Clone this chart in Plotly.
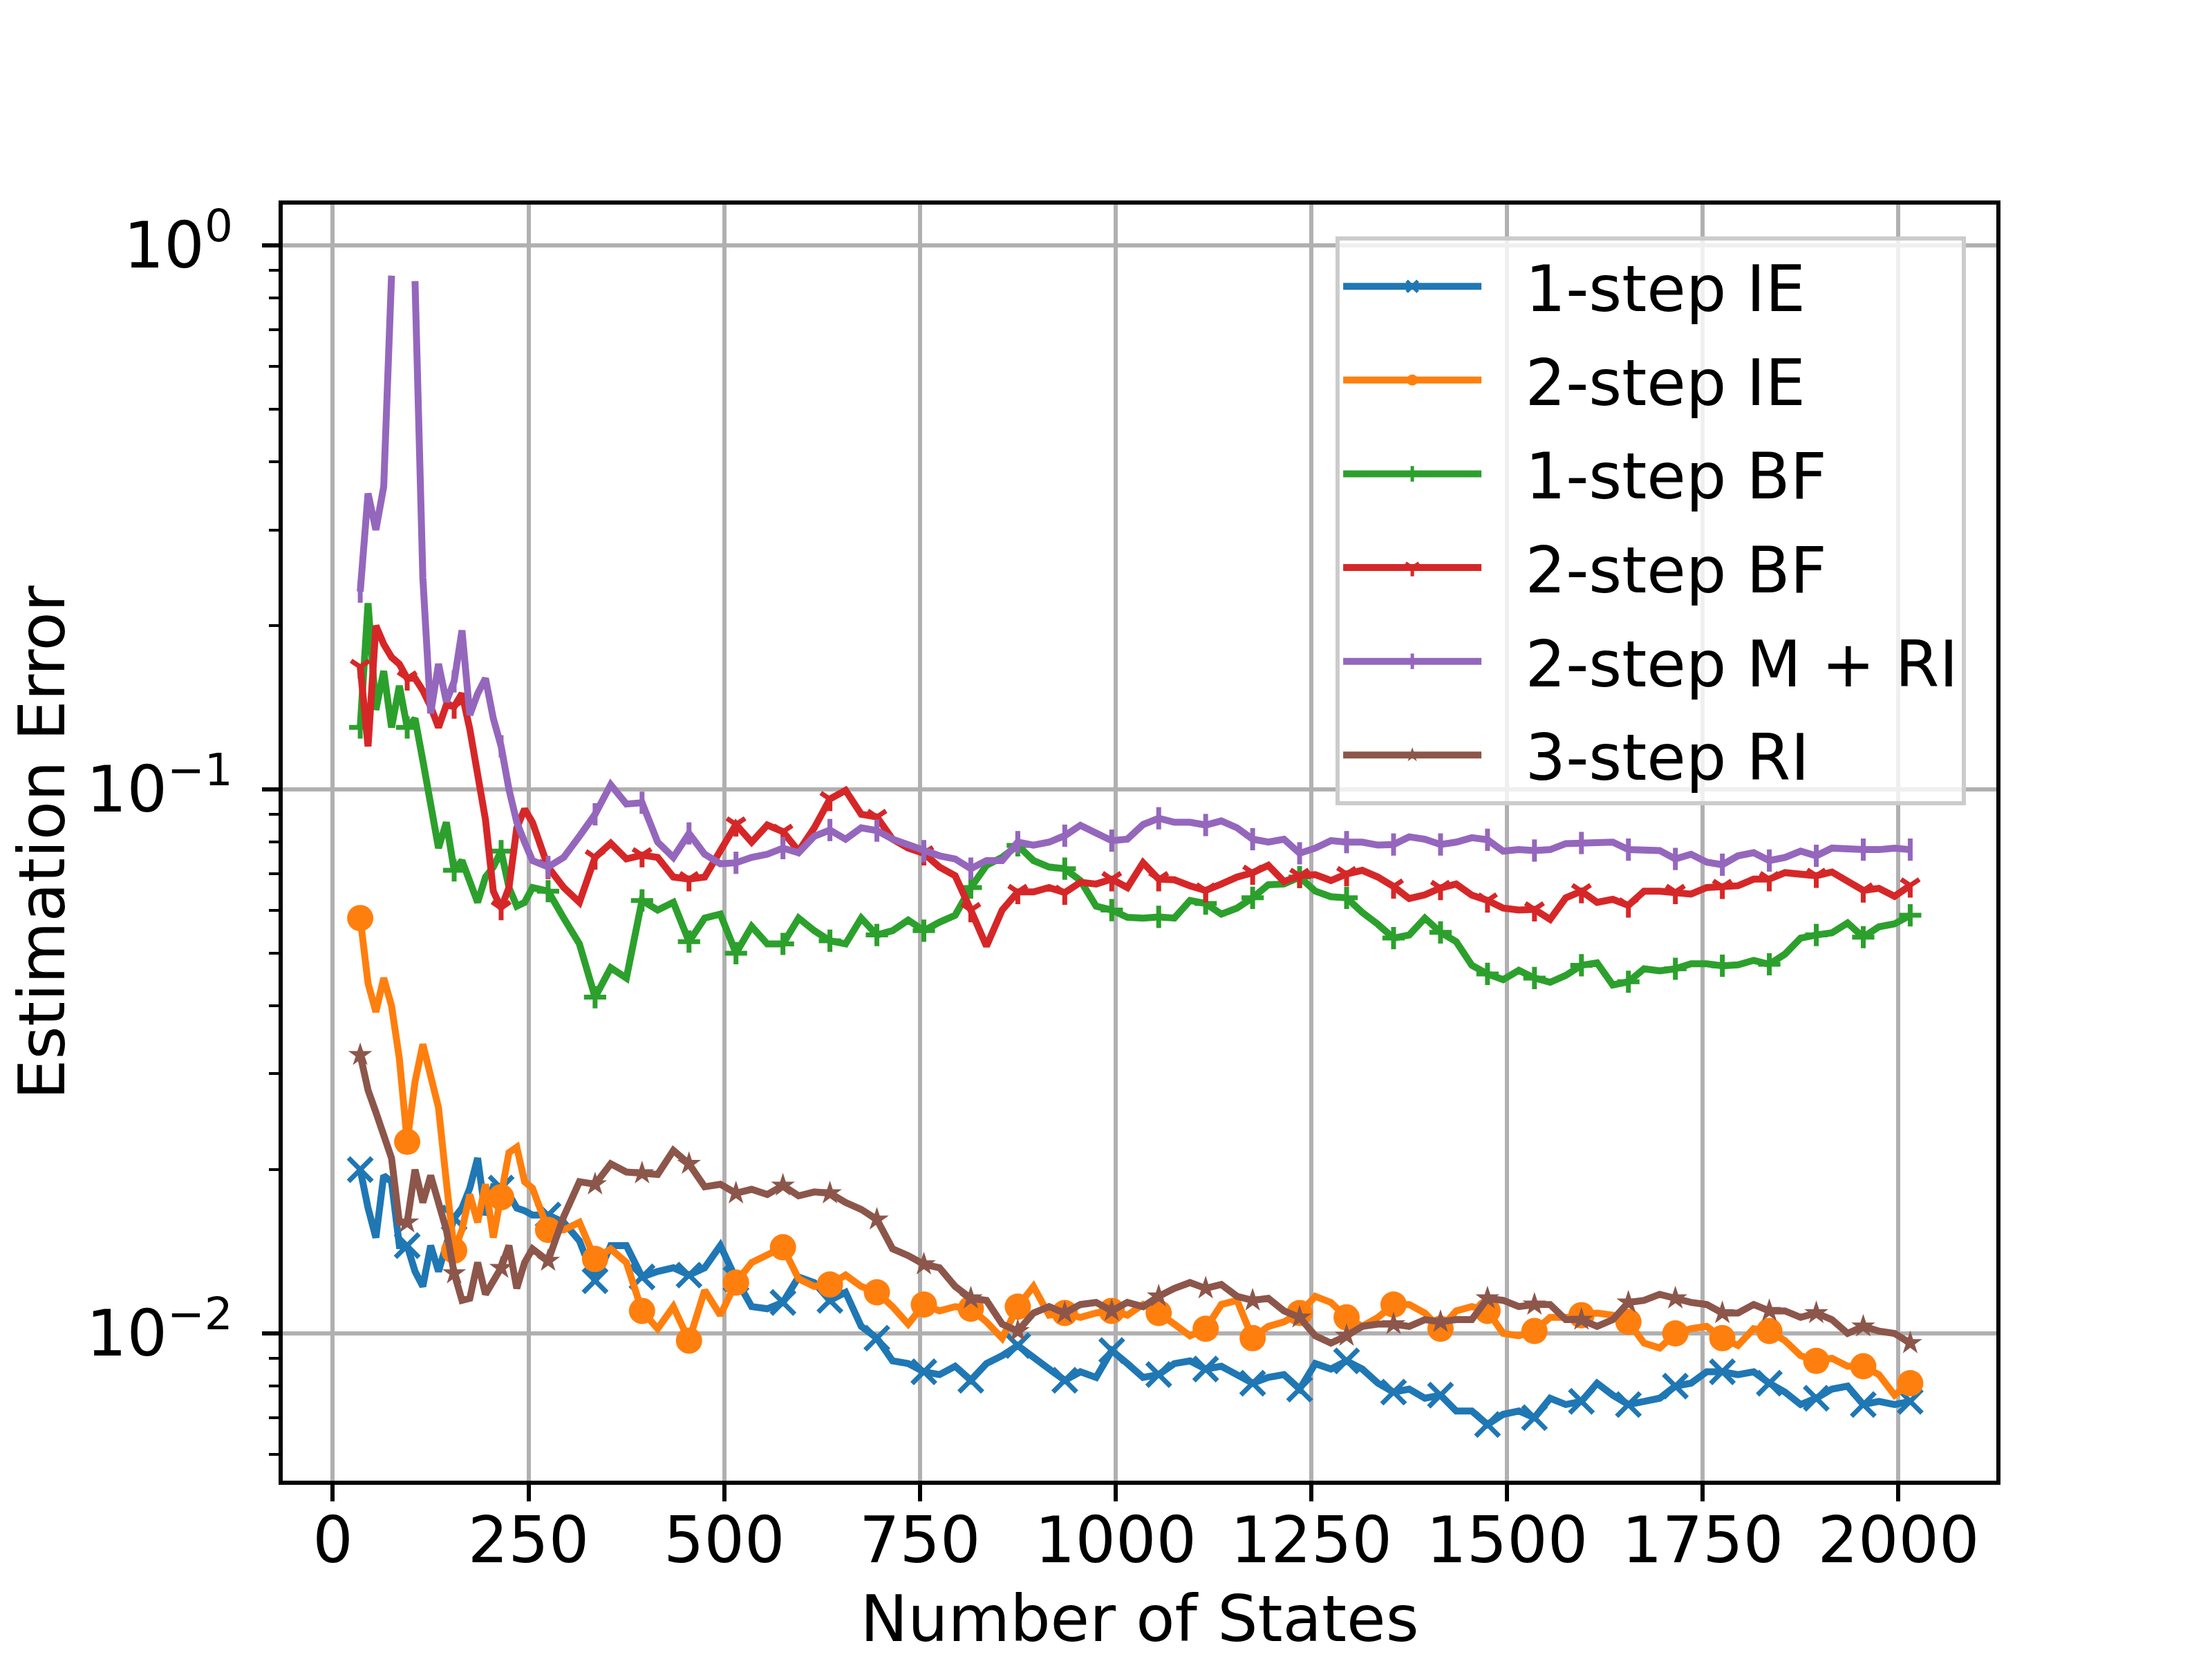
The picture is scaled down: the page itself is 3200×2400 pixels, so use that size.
import plotly.graph_objects as go

FONT = "DejaVu Sans"

# number of states: every 10 up to 255, then every 20
n_states = list(range(35, 256, 10)) + list(range(275, 2016, 20))

err_1step_ie = [
    0.020, 0.017, 0.015, 0.0195, 0.019, 0.0145, 0.0145, 0.013, 0.0122, 0.0145, 0.013, 0.0145,
    0.0163, 0.017, 0.0185, 0.021, 0.0165, 0.0186, 0.0185, 0.018, 0.017, 0.0168, 0.0165,
    0.0165, 0.016, 0.0148, 0.0125, 0.0145, 0.0145, 0.0127, 0.013, 0.0132, 0.0128,
    0.0132, 0.0145, 0.0126, 0.0112, 0.0111, 0.0114, 0.0127, 0.0124, 0.0115, 0.0119,
    0.0103, 0.0098, 0.0089, 0.0088, 0.0085, 0.0084, 0.0087, 0.0082, 0.0088, 0.0091,
    0.0095, 0.009, 0.0086, 0.0082, 0.0085, 0.0083, 0.0093, 0.0088, 0.0083, 0.0084,
    0.0088, 0.0089, 0.0086, 0.0087, 0.0084, 0.0081, 0.0083, 0.0084, 0.0079, 0.0088,
    0.0086, 0.0089, 0.0086, 0.0081, 0.0078, 0.0079, 0.0076, 0.0077, 0.0072, 0.0072,
    0.0068, 0.0071, 0.0072, 0.0070, 0.0076, 0.0074, 0.0075, 0.0081, 0.0077, 0.0074,
    0.0075, 0.0076, 0.0080, 0.0081, 0.0085, 0.0085, 0.0084, 0.0085, 0.0081, 0.0078,
    0.0074, 0.0076, 0.0079, 0.0080, 0.0074, 0.0075, 0.0074, 0.0075,
]

err_2step_ie = [
    0.058, 0.044, 0.039, 0.045, 0.040, 0.032, 0.0225, 0.029, 0.034, 0.030, 0.026, 0.019,
    0.0142, 0.0155, 0.018, 0.016, 0.0188, 0.015, 0.0178, 0.0215, 0.022, 0.019, 0.0185,
    0.0155, 0.0155, 0.0160, 0.0137, 0.0143, 0.0135, 0.011, 0.0102, 0.0112, 0.0097,
    0.012, 0.0108, 0.0124, 0.0135, 0.014, 0.0144, 0.0126, 0.0122, 0.0123, 0.0128,
    0.0122, 0.0119, 0.0112, 0.0104, 0.0113, 0.011, 0.0112, 0.0111, 0.0105, 0.0098,
    0.0112, 0.0122, 0.0108, 0.0109, 0.0107, 0.0109, 0.011, 0.0108, 0.0113, 0.0109,
    0.0104, 0.0099, 0.0102, 0.0113, 0.0115, 0.0098, 0.0103, 0.0105, 0.0109, 0.0117,
    0.0114, 0.0107, 0.0103, 0.0107, 0.0113, 0.0113, 0.0109, 0.0102, 0.0110, 0.0112,
    0.011, 0.0100, 0.0099, 0.0101, 0.0107, 0.0107, 0.0108, 0.0109, 0.0108, 0.0105,
    0.0096, 0.0094, 0.0100, 0.0102, 0.0103, 0.0098, 0.0095, 0.0102, 0.0101, 0.0097,
    0.0091, 0.0089, 0.0090, 0.0087, 0.0087, 0.0084, 0.0077, 0.0081,
]

err_1step_bf = [
    0.130, 0.22, 0.14, 0.165, 0.13, 0.155, 0.13, 0.135, 0.113, 0.095, 0.078, 0.087,
    0.071, 0.074, 0.068, 0.062, 0.069, 0.072, 0.077, 0.066, 0.061, 0.062, 0.066,
    0.065, 0.058, 0.052, 0.0415, 0.047, 0.045, 0.0625, 0.060, 0.062, 0.0525,
    0.058, 0.059, 0.050, 0.056, 0.052, 0.052, 0.058, 0.055, 0.0527, 0.052,
    0.058, 0.054, 0.055, 0.0575, 0.055, 0.057, 0.0587, 0.066, 0.0725, 0.075,
    0.0789, 0.074, 0.072, 0.0715, 0.068, 0.061, 0.0600, 0.0582, 0.058, 0.0583,
    0.058, 0.0625, 0.0617, 0.059, 0.0605, 0.0632, 0.0668, 0.067, 0.069, 0.065,
    0.0635, 0.0632, 0.0594, 0.0565, 0.0533, 0.054, 0.058, 0.0546, 0.0525, 0.0475,
    0.0458, 0.0447, 0.0465, 0.045, 0.0442, 0.0455, 0.0475, 0.048, 0.0437, 0.0443,
    0.0468, 0.0464, 0.0468, 0.0478, 0.0478, 0.0474, 0.0476, 0.0485, 0.0477, 0.0498,
    0.0533, 0.054, 0.0545, 0.0568, 0.0535, 0.0559, 0.0566, 0.0587,
]

err_2step_bf = [
    0.168, 0.12, 0.20, 0.185, 0.175, 0.17, 0.16, 0.16, 0.152, 0.142, 0.13, 0.143,
    0.142, 0.15, 0.129, 0.107, 0.088, 0.065, 0.0605, 0.066, 0.085, 0.092, 0.087,
    0.072, 0.066, 0.062, 0.075, 0.0796, 0.0745, 0.0757, 0.075, 0.069, 0.0684,
    0.069, 0.077, 0.0862, 0.080, 0.086, 0.0836, 0.077, 0.085, 0.096, 0.0996,
    0.090, 0.089, 0.081, 0.078, 0.0763, 0.072, 0.0694, 0.060, 0.0515, 0.06,
    0.0648, 0.0648, 0.066, 0.0646, 0.0675, 0.0670, 0.0684, 0.066, 0.0733, 0.0684,
    0.0682, 0.0665, 0.0652, 0.067, 0.069, 0.0703, 0.0725, 0.0677, 0.0694, 0.0697,
    0.068, 0.0699, 0.071, 0.069, 0.0663, 0.0630, 0.0640, 0.0659, 0.067, 0.0639,
    0.0625, 0.0605, 0.060, 0.0602, 0.0577, 0.0632, 0.065, 0.062, 0.0628, 0.0612,
    0.065, 0.065, 0.0648, 0.0642, 0.066, 0.0662, 0.0665, 0.0684, 0.0684, 0.0703,
    0.0698, 0.0694, 0.0705, 0.0679, 0.0652, 0.0658, 0.0636, 0.0666,
]

# None = no value (gap in the curve)
err_2step_m_ri = [
    0.231, 0.35, 0.30, 0.36, 0.88, None, None, 0.86, 0.245, 0.138, 0.17, 0.145,
    0.158, 0.196, 0.137, 0.15, 0.16, 0.135, 0.12, 0.10, 0.087, 0.08, 0.074,
    0.072, 0.075, 0.082, 0.090, 0.102, 0.094, 0.0945, 0.080, 0.075, 0.083,
    0.076, 0.073, 0.0733, 0.075, 0.076, 0.078, 0.0765, 0.082, 0.0842, 0.081,
    0.085, 0.084, 0.081, 0.079, 0.077, 0.0755, 0.0745, 0.0715, 0.074, 0.074,
    0.080, 0.079, 0.080, 0.0822, 0.0859, 0.083, 0.0805, 0.081, 0.0862, 0.0885,
    0.087, 0.087, 0.086, 0.0875, 0.085, 0.081, 0.080, 0.081, 0.0763, 0.078,
    0.0805, 0.080, 0.080, 0.079, 0.0792, 0.0818, 0.081, 0.0792, 0.080, 0.0815,
    0.0808, 0.077, 0.0775, 0.0772, 0.0775, 0.0795, 0.0797, 0.080, 0.080, 0.0775,
    0.0775, 0.0772, 0.0745, 0.076, 0.0735, 0.0727, 0.0755, 0.0765, 0.074, 0.075,
    0.077, 0.0755, 0.078, 0.0775, 0.0775, 0.0775, 0.078, 0.0775,
]

err_3step_ri = [
    0.0325, 0.028, 0.0255, 0.023, 0.021, 0.016, 0.016, 0.020, 0.0174, 0.0195, 0.0175, 0.0155,
    0.0129, 0.0115, 0.0116, 0.0135, 0.0118, 0.0125, 0.0132, 0.0145, 0.0121, 0.0135, 0.0143,
    0.0136, 0.0164, 0.019, 0.0188, 0.0205, 0.0198, 0.0197, 0.0196, 0.0217, 0.0205,
    0.0186, 0.0188, 0.0181, 0.0184, 0.018, 0.0187, 0.0179, 0.0182, 0.0181, 0.0174,
    0.0169, 0.0162, 0.0143, 0.0139, 0.0134, 0.0132, 0.0122, 0.0116, 0.0115, 0.0104,
    0.0101, 0.0109, 0.0112, 0.0109, 0.0113, 0.0114, 0.011, 0.0114, 0.0112, 0.0117,
    0.0121, 0.0124, 0.0121, 0.0123, 0.0117, 0.0115, 0.0116, 0.011, 0.0107, 0.0099,
    0.0096, 0.0099, 0.0103, 0.0104, 0.0104, 0.0103, 0.0106, 0.0105, 0.0106, 0.0106,
    0.0116, 0.0115, 0.0112, 0.0113, 0.0113, 0.0106, 0.0106, 0.0103, 0.0106, 0.0114,
    0.0115, 0.0118, 0.0116, 0.0114, 0.0113, 0.0109, 0.0109, 0.0113, 0.011, 0.0110,
    0.0107, 0.0109, 0.0106, 0.0100, 0.0103, 0.0101, 0.0100, 0.0096,
]

x_ticks = [0, 250, 500, 750, 1000, 1250, 1500, 1750, 2000]
y_ticks = [0.01, 0.1, 1]
y_tick_text = ["10<sup>\u22122</sup>", "10<sup>\u22121</sup>", "10<sup>0</sup>"]
y_minor = [0.006, 0.007, 0.008, 0.009,
           0.02, 0.03, 0.04, 0.05, 0.06, 0.07, 0.08, 0.09,
           0.2, 0.3, 0.4, 0.5, 0.6, 0.7, 0.8, 0.9]

# (label, values, colour, plotly symbol, marker size, open symbol?)
series = [
    ("1-step IE", err_1step_ie, "#1f77b4", "x-thin", 34, True),
    ("2-step IE", err_2step_ie, "#ff7f0e", "circle", 38, False),
    ("1-step BF", err_1step_bf, "#2ca02c", "cross-thin", 23, True),
    ("2-step BF", err_2step_bf, "#d62728", "y-down", 22, True),
    ("2-step M + RI", err_2step_m_ri, "#9467bd", "line-ns", 23, True),
    ("3-step RI", err_3step_ri, "#8c564b", "star", 26, False),
]

MARK_EVERY = 60  # one marker every 60 states

fig = go.Figure()
for name, vals, color, sym, msize, open_sym in series:
    marker = dict(symbol=sym, size=msize, color=color)
    if open_sym:
        marker["line"] = dict(width=7, color=color)
    else:
        marker["line"] = dict(width=0)

    fig.add_trace(go.Scatter(
        x=n_states, y=vals, mode="lines", name=name, legendgroup=name,
        line=dict(color=color, width=10), connectgaps=False, showlegend=False,
    ))
    mx = [s for s, v in zip(n_states, vals) if (s - 35) % MARK_EVERY == 0 and v is not None]
    my = [v for s, v in zip(n_states, vals) if (s - 35) % MARK_EVERY == 0 and v is not None]
    fig.add_trace(go.Scatter(
        x=mx, y=my, mode="markers", name=name, legendgroup=name,
        marker=marker, showlegend=False,
    ))
    # legend entry only (non-breaking spaces give the gap after the legend line)
    fig.add_trace(go.Scatter(
        x=[None], y=[None], mode="lines+markers", name="\u00a0\u00a0" + name,
        legendgroup=name, line=dict(color=color, width=10), marker=marker,
    ))

axis_common = dict(
    showline=True, linecolor="black", linewidth=5.5, mirror=True,
    showgrid=True, gridcolor="#b0b0b0", gridwidth=5.5,
    ticks="outside", ticklen=24, tickwidth=5.5, tickcolor="black",
    tickfont=dict(family=FONT, size=92, color="black"),
    zeroline=False,
)

fig.update_layout(
    width=3200, height=2400,
    margin=dict(l=399, r=320, t=288, b=266),
    paper_bgcolor="white", plot_bgcolor="white",
    font=dict(family=FONT, size=92, color="black"),
    xaxis=dict(
        **axis_common,
        range=[-64, 2125],
        tickmode="array", tickvals=x_ticks,
        ticklabelstandoff=-22,
        title=dict(text="Number of States", font=dict(family=FONT, size=92), standoff=30),
    ),
    yaxis=dict(
        **axis_common,
        type="log",
        range=[-2.2707, 0.075],
        tickmode="array", tickvals=y_ticks, ticktext=y_tick_text,
        ticklabelstandoff=24,
        minor=dict(tickmode="array", tickvals=y_minor, ticks="outside", ticklen=14,
                   tickwidth=4, tickcolor="black", showgrid=False),
        title=dict(text="Estimation Error", font=dict(family=FONT, size=92), standoff=40),
    ),
    legend=dict(
        x=0.9823, y=0.9751, xanchor="right", yanchor="top",
        bgcolor="rgba(255,255,255,0.8)", bordercolor="#cccccc", borderwidth=6,
        font=dict(family=FONT, size=92, color="black"),
        itemwidth=200, tracegroupgap=13,
    ),
    showlegend=True,
)

fig.write_html("out.html")
